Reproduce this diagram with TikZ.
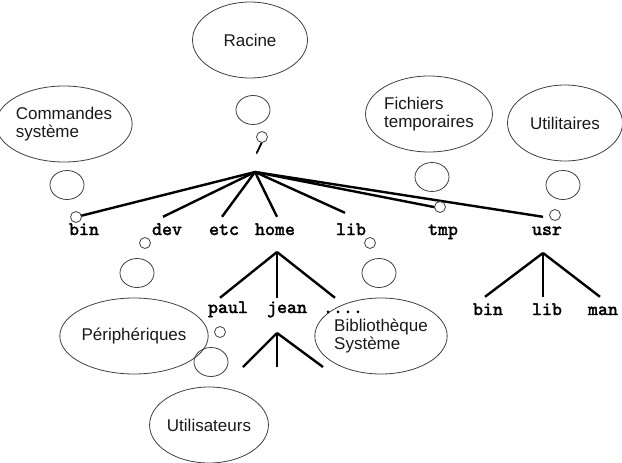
\documentclass[tikz,border=0pt]{standalone}
\usepackage{fontspec}
\setmainfont{Liberation Sans}
\setmonofont{lmmono10-regular}[Extension=.otf,AutoFakeBold=2.2]
\usepackage{tikz}
\usetikzlibrary{shapes.geometric}
\usetikzlibrary{calc}
\tikzstyle{bubble}=[ellipse,draw=black!75,line width=0.8pt,minimum width=115pt,minimum height=76pt,inner sep=0pt,align=left,text=black!90,font=\fontsize{17}{17.5}\selectfont]
\tikzstyle{midbubble}=[ellipse,draw=black!75,line width=0.8pt,minimum width=34pt,minimum height=29pt,inner sep=0pt]
\tikzstyle{smallbubble}=[circle,draw=black!75,fill=white,line width=0.8pt,minimum size=11pt,inner sep=0pt]
\tikzstyle{dirname}=[font=\ttfamily\bfseries\fontsize{19}{19}\selectfont,text height=11pt,text depth=3pt,inner xsep=1pt,inner ysep=6pt]
\tikzstyle{treeedge} = [draw,line width=2.4pt]

\begin{document}
\begin{tikzpicture}[x=1pt,y=-1pt]

  \useasboundingbox (0,0) rectangle (622,463);
  \def\u{1};

   \foreach \x/\y/\name/\label in { 250/40/racine/Racine, 64/124/commandes/{Commandes\\système},
          429/114/fichiers/{Fichiers\\temporaires}, 565/123/utilitaires/Utilitaires,
          134/336/peripheriques/Périphériques, 381/336/bibliotheque/{Bibliothèque\\Système},
          209/425/utilisateurs/Utilisateurs}
          \node[bubble] (\name) at (\x*\u, \y) {\label};

   \foreach \x/\y/\name/\label in { 84/231/bin/bin, 167/231/dev/dev, 224/231/etc/etc, 275/231/home/home,
          351/231/lib/lib, 443/231/tmp/tmp, 547/231/usr/usr,
          228/309/paul/paul, 287/309/jean/jean, 343/309/autres/{....},
          488/311/usrbin/bin, 547/311/usrlib/lib, 603/311/man/man}
          \node[dirname] (\name) at (\x*\u, \y) {\label};

  \node[dirname] (root) at (260,148) {/};

  \coordinate (rootfork) at (255,172);
  \coordinate (homefork) at (277,252);
  \coordinate (usrfork) at (543,253);
  \coordinate (jeanfork) at (277,333);
  \coordinate (jean1) at (243,367);
  \coordinate (jean2) at (277,367);
  \coordinate (jean3) at (323,367);

  \foreach \dest/\ox/\oy in {bin/-7/-1, dev/-4/-1, etc/-2/-1, home/2/-1, lib/-6/-5, tmp/-5/-10, usr/-4/-1}
         \path[treeedge] (rootfork) -- ($(\dest.north)+(\ox,\oy)$);

  \foreach \dest/\ox/\oy in {paul/-8/2, jean/-10/2, autres/-8/2}
         \path[treeedge] (homefork) -- ($(\dest.north)+(\ox,\oy)$);

  \foreach \dest/\ox/\oy in {usrbin/-3/-1, usrlib/-4/-1, man/-3/-1}
         \path[treeedge] (usrfork) -- ($(\dest.north)+(\ox,\oy)$);

  \foreach \dest in {jean1, jean2, jean3}
         \path[treeedge] (jeanfork) -- (\dest);

   \foreach \x/\y/\name in { 253/110/racinemid, 67/185/commandesmid, 432/177/fichiersmid, 563/185/utilitairesmid,
          137/273/peripheriquesmid, 379/273/bibliothequemid, 211/362/utilisateursmid}
          \node[midbubble] (\name) at (\x*\u, \y) {};

   \foreach \x/\y/\name in { 262/137/racinesmall, 76/217/commandessmall, 440/207/fichierssmall, 555/215/utilitairessmall,
          145/243/peripheriquessmall, 370/243/bibliothequesmall, 220/332/utilisateurssmall}
          \node[smallbubble] (\name) at (\x*\u, \y) {};

\end{tikzpicture}
\end{document}
